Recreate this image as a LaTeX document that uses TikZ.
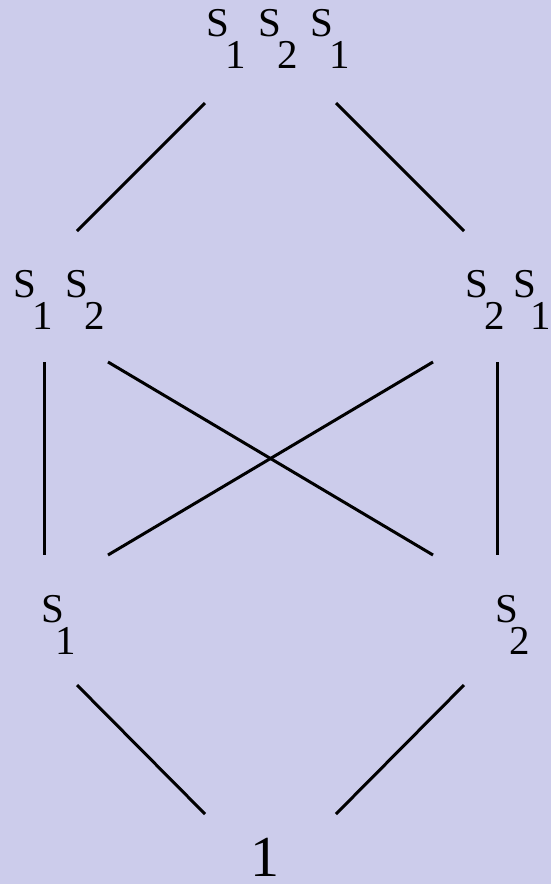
\documentclass[tikz,border=0pt]{standalone}
\usepackage{fontspec}
\setmainfont{Liberation Serif}
\usepackage{tikz}
\definecolor{lavender}{RGB}{204,204,235}
\definecolor{ink}{HTML}{000000}
\newcommand{\gsub}[2][-4pt]{S\kern#1\raisebox{-32pt}{#2}}
\tikzset{
  elem/.style={anchor=base west,inner sep=0pt,font=\fontsize{41}{41}\selectfont,text=ink},
  unit/.style={anchor=base west,inner sep=0pt,font=\fontsize{58}{58}\selectfont,text=ink},
  cover/.style={draw=ink,line width=3pt}
}

\begin{document}
\begin{tikzpicture}[x=1pt,y=-1pt]
  \fill[lavender] (0,0) rectangle (551,884);
  \useasboundingbox (0,0) rectangle (551,884);
  % elements, longest word on top
  \node[elem] (s121) at (206,36) {\gsub{1}\kern13pt\gsub{2}\kern13pt\gsub{1}};
  \node[elem] (s12) at (13,297) {\gsub{1}\kern13pt\gsub{2}};
  \node[elem] (s21) at (465,297) {\gsub{2}\kern9pt\gsub[-6pt]{1}};
  \node[elem] (s1) at (41,622) {\gsub[-9pt]{1}};
  \node[elem] (s2) at (495,622) {\gsub[-9pt]{2}};
  \node[unit] (one) at (250,876) {1};
  % ends of the cover lines
  \coordinate (a1) at (205,103);  \coordinate (a2) at (77,231);
  \coordinate (b1) at (336,103);  \coordinate (b2) at (464,231);
  \coordinate (c1) at (44,362);   \coordinate (c2) at (44,555);
  \coordinate (d1) at (497,362);  \coordinate (d2) at (497,555);
  \coordinate (e1) at (108,362);  \coordinate (e2) at (433,555);
  \coordinate (f1) at (433,362);  \coordinate (f2) at (108,555);
  \coordinate (g1) at (77,685);   \coordinate (g2) at (205,814);
  \coordinate (h1) at (464,685);  \coordinate (h2) at (336,814);
  \draw[cover] (a1) -- (a2); \draw[cover] (b1) -- (b2);
  \draw[cover] (c1) -- (c2); \draw[cover] (d1) -- (d2);
  \draw[cover] (e1) -- (e2); \draw[cover] (f1) -- (f2);
  \draw[cover] (g1) -- (g2); \draw[cover] (h1) -- (h2);
\end{tikzpicture}
\end{document}
